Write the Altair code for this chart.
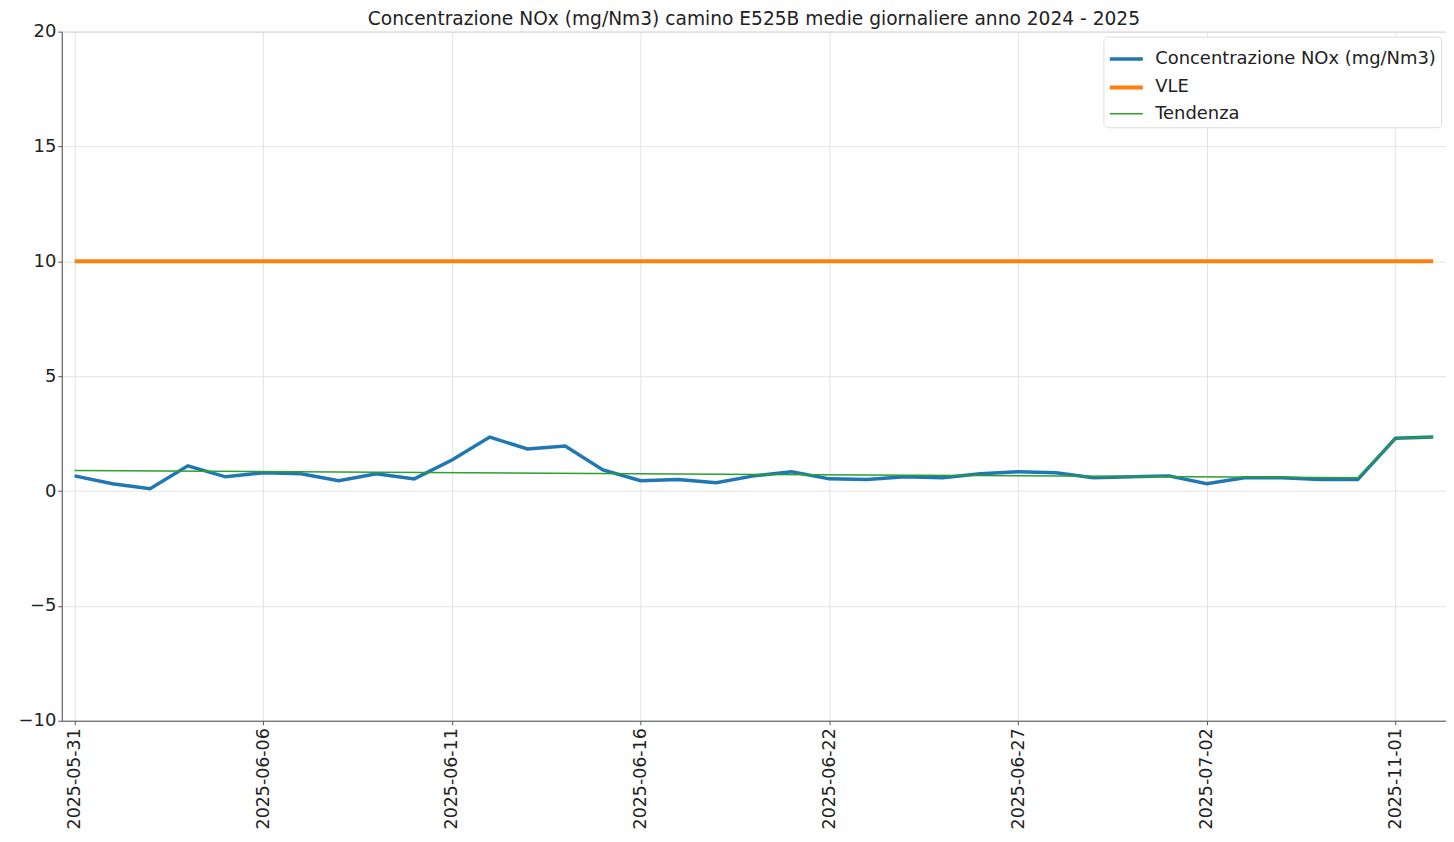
import altair as alt
import pandas as pd

dates = ["2025-05-31", "2025-06-01", "2025-06-02", "2025-06-03", "2025-06-04",
         "2025-06-06", "2025-06-07", "2025-06-08", "2025-06-09", "2025-06-10",
         "2025-06-11", "2025-06-12", "2025-06-13", "2025-06-14", "2025-06-15",
         "2025-06-16", "2025-06-17", "2025-06-18", "2025-06-19", "2025-06-20",
         "2025-06-22", "2025-06-23", "2025-06-24", "2025-06-25", "2025-06-26",
         "2025-06-27", "2025-06-28", "2025-06-29", "2025-06-30", "2025-07-01",
         "2025-07-02", "2025-07-03", "2025-07-04", "2025-07-05", "2025-07-06",
         "2025-11-01", "2025-11-02"]

nox = [0.66, 0.32, 0.10, 1.10, 0.62, 0.80, 0.75, 0.45, 0.75, 0.53,
       1.35, 2.35, 1.83, 1.96, 0.92, 0.45, 0.50, 0.36, 0.66, 0.84,
       0.53, 0.50, 0.62, 0.58, 0.75, 0.84, 0.80, 0.58, 0.62, 0.66,
       0.32, 0.58, 0.58, 0.50, 0.50, 2.30, 2.35]

vle = [10] * len(dates)

trend_dates = ["2025-05-31", "2025-07-06", "2025-11-01", "2025-11-02"]
trend_values = [0.89, 0.58, 2.30, 2.35]

tick_dates = ["2025-05-31", "2025-06-06", "2025-06-11", "2025-06-16",
              "2025-06-22", "2025-06-27", "2025-07-02", "2025-11-01"]

series = ["Concentrazione NOx (mg/Nm3)", "VLE", "Tendenza"]
colors = ["#1f77b4", "#ff7f0e", "#2ca02c"]
widths = [3.5, 4.0, 1.5]

rows = []
for i, (d, v) in enumerate(zip(dates, nox)):
    rows.append({"date": d, "value": v, "series": series[0], "idx": i})
for i, (d, v) in enumerate(zip(dates, vle)):
    rows.append({"date": d, "value": v, "series": series[1], "idx": i})
for d, v in zip(trend_dates, trend_values):
    rows.append({"date": d, "value": v, "series": series[2], "idx": dates.index(d)})
df = pd.DataFrame(rows)

FONT = "DejaVu Sans"

legend = alt.Legend(
    title=None, orient="top-right", offset=5, fillColor="white",
    strokeColor="#dddddd", padding=4, cornerRadius=4,
    labelFontSize=18, labelFont=FONT, labelColor="#222222",
    symbolType="stroke", symbolSize=1100, rowPadding=0, labelLimit=400,
    labelOffset=10,
)

chart = alt.Chart(df).mark_line(strokeCap="butt").encode(
    x=alt.X("date:O", sort=dates,
            scale=alt.Scale(type="point", padding=0.34),
            axis=alt.Axis(values=tick_dates, labelAngle=-90, title=None, grid=True,
                          labelFontSize=17.5, tickSize=4, labelPadding=3)),
    y=alt.Y("value:Q", scale=alt.Scale(domain=[-10, 20], nice=False),
            axis=alt.Axis(values=[-10, -5, 0, 5, 10, 15, 20], title=None,
                          labelFontSize=18, tickSize=4, labelPadding=2,
                          labelExpr="replace(datum.label, '-', '\u2212')")),
    color=alt.Color("series:N", scale=alt.Scale(domain=series, range=colors),
                    legend=legend),
    strokeWidth=alt.StrokeWidth("series:N",
                                scale=alt.Scale(type="ordinal", domain=series, range=widths),
                                legend=legend),
    order=alt.Order("idx:Q"),
).properties(
    width=1390, height=692,
    autosize=alt.AutoSizeParams(type="none"),
    padding={"left": 54, "top": 22, "right": 0, "bottom": 112},
    title=alt.TitleParams(
        "Concentrazione NOx (mg/Nm3) camino E525B medie giornaliere anno 2024 - 2025",
        fontSize=18.7, fontWeight="normal", font=FONT, anchor="middle",
        offset=-6, color="#222222"),
).configure_view(
    stroke="#cccccc", strokeWidth=1
).configure_axis(
    domainColor="#555555", tickColor="#555555", gridColor="#e3e3e3",
    labelFont=FONT, labelColor="#222222"
)

chart.save("out.html", embed_options={"renderer": "svg", "actions": False})
